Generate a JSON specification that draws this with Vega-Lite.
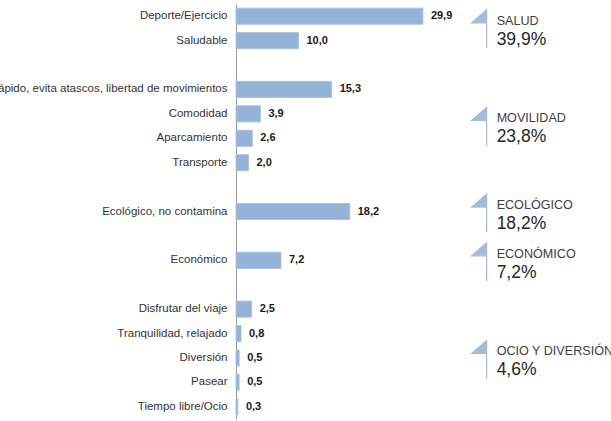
{
  "$schema": "https://vega.github.io/schema/vega-lite/v6.json",
  "width": 375,
  "height": 415,
  "autosize": {"type": "none"},
  "padding": {"left": 236, "top": 4, "right": 0, "bottom": 2},
  "background": "white",
  "config": {
    "view": {"stroke": null},
    "font": "Liberation Sans",
    "locale": {"number": {"decimal": ",", "thousands": ".", "grouping": [3], "currency": ["", " €"]}}
  },
  "datasets": {
    "bars": [
      {"item": "Deporte/Ejercicio", "value": 29.9},
      {"item": "Saludable", "value": 10.0},
      {"item": "Rápido, evita atascos, libertad de movimientos", "value": 15.3},
      {"item": "Comodidad", "value": 3.9},
      {"item": "Aparcamiento", "value": 2.6},
      {"item": "Transporte", "value": 2.0},
      {"item": "Ecológico, no contamina", "value": 18.2},
      {"item": "Económico", "value": 7.2},
      {"item": "Disfrutar del viaje", "value": 2.5},
      {"item": "Tranquilidad, relajado", "value": 0.8},
      {"item": "Diversión", "value": 0.5},
      {"item": "Pasear", "value": 0.5},
      {"item": "Tiempo libre/Ocio", "value": 0.3}
    ],
    "groups": [
      {"group": "SALUD", "share": 0.399, "anchor": "Deporte/Ejercicio"},
      {"group": "MOVILIDAD", "share": 0.238, "anchor": "Comodidad"},
      {"group": "ECOLÓGICO", "share": 0.182, "anchor": "Ecológico, no contamina"},
      {"group": "ECONÓMICO", "share": 0.072, "anchor": "Económico"},
      {"group": "OCIO Y DIVERSIÓN", "share": 0.046, "anchor": "Diversión"}
    ]
  },
  "layer": [
    {
      "data": {"name": "bars"},
      "mark": {"type": "bar", "color": "#95b3d7", "stroke": "#a9c3de", "strokeWidth": 1},
      "encoding": {
        "y": {
          "field": "item",
          "type": "nominal",
          "sort": null,
          "scale": {
            "domain": ["Deporte/Ejercicio", "Saludable", " ", "Rápido, evita atascos, libertad de movimientos", "Comodidad", "Aparcamiento", "Transporte", "  ", "Ecológico, no contamina", "   ", "Económico", "    ", "Disfrutar del viaje", "Tranquilidad, relajado", "Diversión", "Pasear", "Tiempo libre/Ocio"],
            "paddingInner": 0.34,
            "paddingOuter": 0.17
          },
          "axis": {
            "title": null,
            "ticks": false,
            "labelPadding": 9,
            "labelFontSize": 11.5,
            "labelColor": "#333333",
            "labelLimit": 600,
            "labelFont": "Liberation Sans",
            "domainColor": "#999999",
            "domainWidth": 1
          }
        },
        "x": {"field": "value", "type": "quantitative", "scale": {"domain": [0, 60]}, "axis": null}
      }
    },
    {
      "data": {"name": "bars"},
      "mark": {"type": "text", "align": "left", "baseline": "middle", "dx": 8, "fontWeight": "bold", "fontSize": 11, "color": "#1a1a1a"},
      "encoding": {
        "y": {"field": "item", "type": "nominal"},
        "x": {"field": "value", "type": "quantitative"},
        "text": {"field": "value", "type": "quantitative", "format": ".1f"}
      }
    },
    {
      "data": {"name": "groups"},
      "transform": [{"filter": {"field": "group", "oneOf": ["SALUD", "MOVILIDAD"]}}],
      "layer": [
        {
          "mark": {"type": "point", "shape": "M0,-1.47L0,0.27L-2,0.27Z M0,-1.47L0,3.64", "size": 225, "filled": true, "color": "#a4bdd6", "stroke": "#a4bdd6", "strokeWidth": 1.2, "opacity": 1, "yOffset": 4.6},
          "encoding": {"x": {"datum": 40.1}, "y": {"field": "anchor", "type": "nominal"}}
        },
        {
          "mark": {"type": "text", "align": "left", "baseline": "middle", "dy": 4.6, "fontSize": 12.6, "color": "#404040"},
          "encoding": {"x": {"datum": 41.7}, "y": {"field": "anchor", "type": "nominal"}, "text": {"field": "group", "type": "nominal"}}
        },
        {
          "mark": {"type": "text", "align": "left", "baseline": "middle", "dy": 23.6, "fontSize": 17.5, "color": "#262626"},
          "encoding": {"x": {"datum": 41.7}, "y": {"field": "anchor", "type": "nominal"}, "text": {"field": "share", "type": "quantitative", "format": ".1%"}}
        }
      ]
    },
    {
      "data": {"name": "groups"},
      "transform": [{"filter": {"field": "group", "oneOf": ["ECOLÓGICO", "ECONÓMICO", "OCIO Y DIVERSIÓN"]}}],
      "layer": [
        {
          "mark": {"type": "point", "shape": "M0,-1.47L0,0.27L-2,0.27Z M0,-1.47L0,3.64", "size": 225, "filled": true, "color": "#a4bdd6", "stroke": "#a4bdd6", "strokeWidth": 1.2, "opacity": 1, "yOffset": -6.5},
          "encoding": {"x": {"datum": 40.1}, "y": {"field": "anchor", "type": "nominal"}}
        },
        {
          "mark": {"type": "text", "align": "left", "baseline": "middle", "dy": -6.5, "fontSize": 12.6, "color": "#404040"},
          "encoding": {"x": {"datum": 41.7}, "y": {"field": "anchor", "type": "nominal"}, "text": {"field": "group", "type": "nominal"}}
        },
        {
          "mark": {"type": "text", "align": "left", "baseline": "middle", "dy": 12.5, "fontSize": 17.5, "color": "#262626"},
          "encoding": {"x": {"datum": 41.7}, "y": {"field": "anchor", "type": "nominal"}, "text": {"field": "share", "type": "quantitative", "format": ".1%"}}
        }
      ]
    }
  ]
}
